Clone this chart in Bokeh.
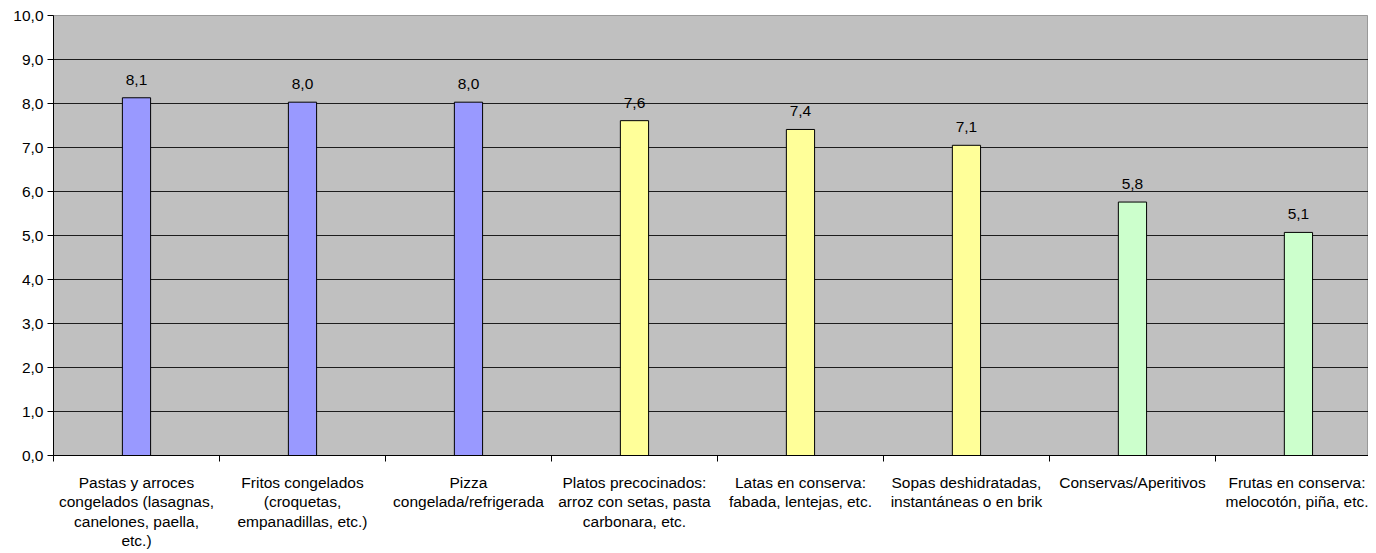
from bokeh.plotting import figure
from bokeh.models import ColumnDataSource, Range1d, FixedTicker
from bokeh.core.properties import value
from bokeh.embed import file_html
from bokeh.resources import INLINE

categories = [
    "Pastas y arroces\ncongelados (lasagnas,\ncanelones, paella,\netc.)",
    "Fritos congelados\n(croquetas,\nempanadillas, etc.)",
    "Pizza\ncongelada/refrigerada",
    "Platos precocinados:\narroz con setas, pasta\ncarbonara, etc.",
    "Latas en conserva:\nfabada, lentejas, etc.",
    "Sopas deshidratadas,\ninstantáneas o en brik",
    "Conservas/Aperitivos",
    "Frutas en conserva:\nmelocotón, piña, etc.",
]
values = [8.13, 8.03, 8.03, 7.61, 7.41, 7.05, 5.76, 5.07]
value_labels = ["8,1", "8,0", "8,0", "7,6", "7,4", "7,1", "5,8", "5,1"]
y_ticks = [0, 1, 2, 3, 4, 5, 6, 7, 8, 9, 10]
y_tick_labels = ["0,0", "1,0", "2,0", "3,0", "4,0", "5,0", "6,0", "7,0", "8,0", "9,0", "10,0"]

palette = ["#9999FF"] * 3 + ["#FFFF99"] * 3 + ["#CCFFCC"] * 2

FONT = "Liberation Sans"
FS = "15.5px"

xs = [i + 0.5 for i in range(len(categories))]
src = ColumnDataSource(dict(x=xs, top=values, label=value_labels, color=palette))

p = figure(width=1368, height=545, output_backend="svg", toolbar_location=None,
           x_range=Range1d(0, 7.922), y_range=Range1d(0, 10),
           min_border_left=53, min_border_right=0, min_border_top=15, min_border_bottom=10)
p.frame_height = 440
p.background_fill_color = "#C0C0C0"
p.border_fill_color = "white"
p.outline_line_color = "#999999"

p.vbar(x="x", top="top", bottom=0, width=0.17, source=src,
       fill_color="color", line_color="black", line_width=1)
p.text(x="x", y="top", text="label", source=src, text_align="center",
       text_baseline="middle", y_offset=-18, text_font=value(FONT),
       text_font_size=FS, text_color="black")

# y axis
p.yaxis.ticker = FixedTicker(ticks=y_ticks)
p.yaxis.major_label_overrides = {t: l for t, l in zip(y_ticks, y_tick_labels)}
p.yaxis.major_label_text_font = FONT
p.yaxis.major_label_text_font_size = FS
p.yaxis.major_label_text_color = "black"
p.yaxis.major_tick_out = 6
p.yaxis.major_tick_in = 0
p.yaxis.minor_tick_line_color = None
p.yaxis.axis_line_color = "black"
p.yaxis.major_tick_line_color = "black"
p.yaxis.major_label_standoff = 4

# x axis
p.xaxis.ticker = FixedTicker(ticks=xs, minor_ticks=list(range(0, 9)))
p.xaxis.major_label_overrides = {x: c for x, c in zip(xs, categories)}
p.xaxis.major_label_text_font = FONT
p.xaxis.major_label_text_font_size = FS
p.xaxis.major_label_text_color = "black"
p.xaxis.major_label_text_line_height = 1.15
p.xaxis.major_tick_out = 0
p.xaxis.major_tick_in = 0
p.xaxis.minor_tick_out = 6
p.xaxis.minor_tick_in = 0
p.xaxis.minor_tick_line_color = "black"
p.xaxis.axis_line_color = "black"
p.xaxis.major_label_standoff = 12

p.xgrid.grid_line_color = None
p.ygrid.grid_line_color = "black"
p.ygrid.grid_line_alpha = 0.85
p.ygrid.ticker = FixedTicker(ticks=y_ticks)

open("out.html", "w").write(file_html(p, INLINE))
